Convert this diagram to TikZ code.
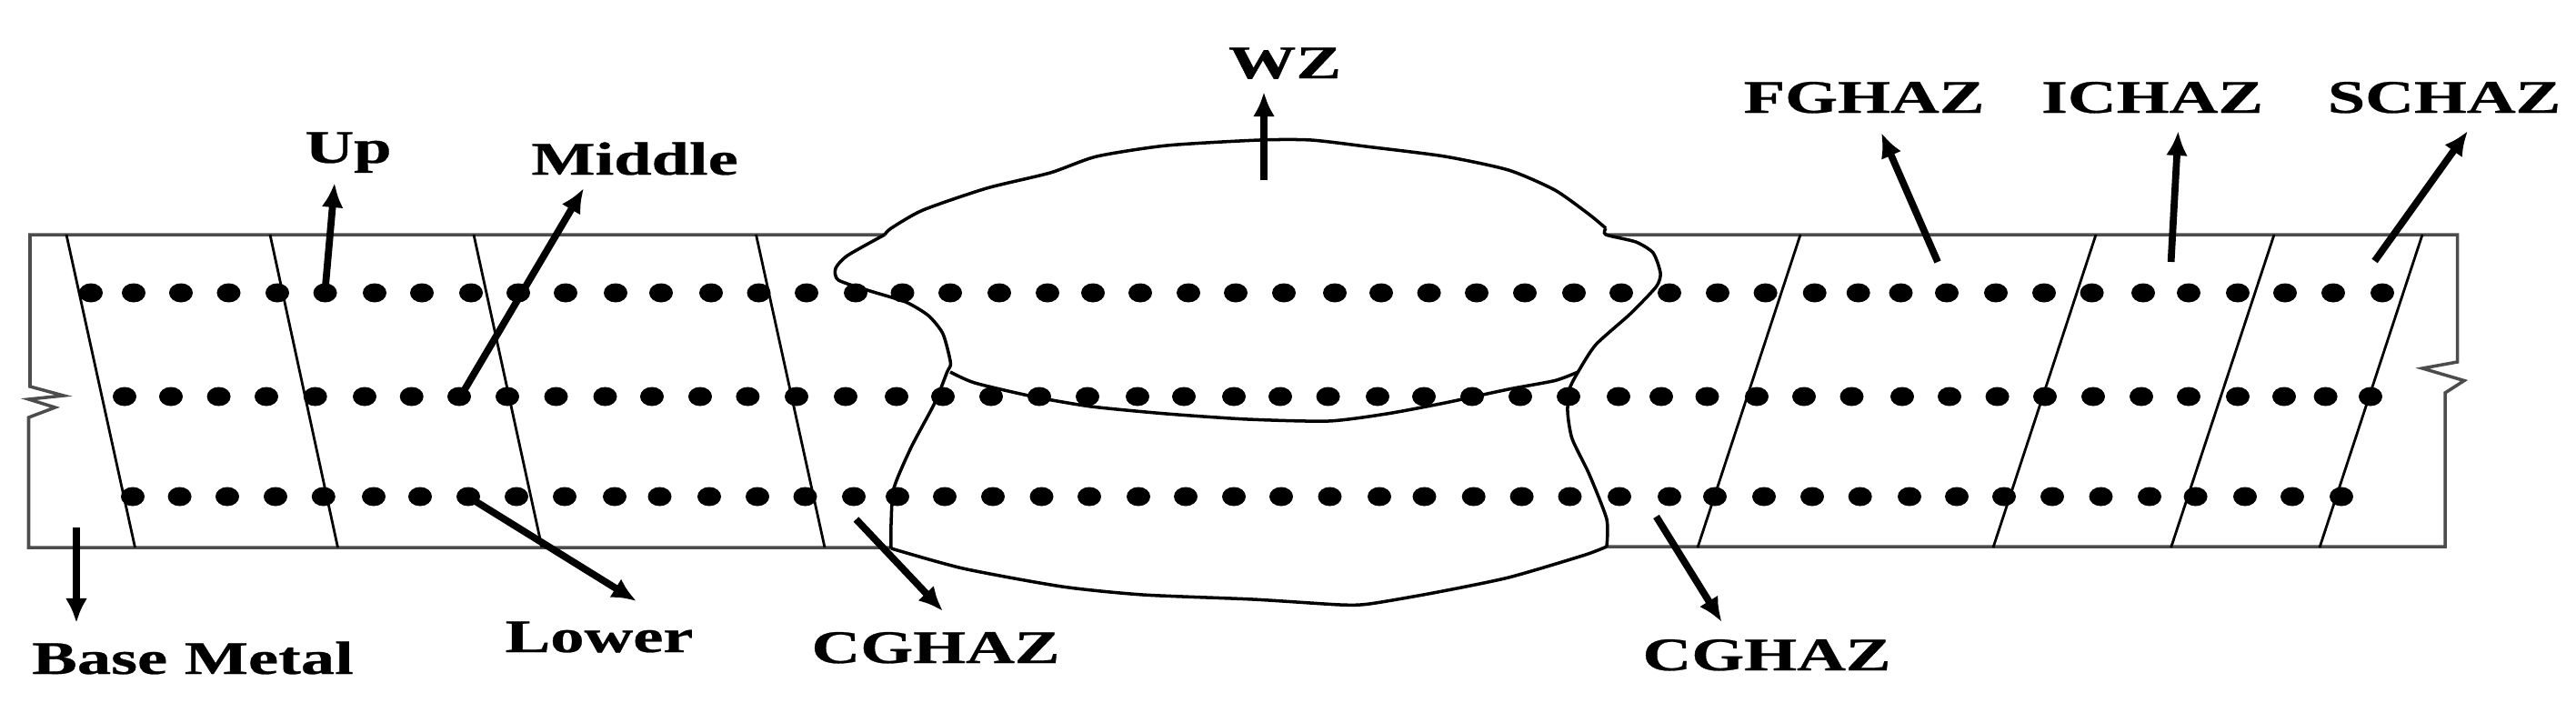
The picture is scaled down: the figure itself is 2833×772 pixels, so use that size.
\documentclass[tikz,border=0pt]{standalone}
\usepackage{fontspec}
\setmainfont{Liberation Serif}[BoldFeatures={FakeBold=0.5}]
\usetikzlibrary{arrows.meta}
\tikzset{
  plate/.style={line width=1pt,draw=black!70},
  seam/.style={line width=0.8pt},
  weld/.style={line width=1pt},
  pointer/.style={line width=2.2pt,-{Latex[length=0.27cm,width=0.24cm]}},
  lbl/.style={font=\fontsize{14.6}{15}\selectfont\bfseries,anchor=base,xscale=1.45,transform shape}
}
\begin{document}
\begin{tikzpicture}[x=0.01cm,y=-0.01cm]
\useasboundingbox (0,0) rectangle (2833,772);
% plate outline with the two break marks
\draw[plate] (973,258) -- (33,258) -- (33,425) -- (70,435) -- (31.5,439) -- (60.6,448) -- (31.5,459) -- (31.5,602) -- (980,602);
\draw[plate] (1766,258) -- (2702.5,258) -- (2702.5,398) -- (2664,405) -- (2710,418.5) -- (2689,432) -- (2689,601) -- (1767,601);
% zone boundaries
\foreach \xa/\xb in {73/148.5,297/371.5,521/596,831.5/907,1980/1867,2305/2192,2501/2387.6,2664/2551} {
\draw[seam] (\xa,258) -- (\xb,602);
}
% weld
\draw[weld] plot[smooth,tension=0.4] coordinates {(973,258) (980,251) (1015,231) (1085,207) (1155,190) (1206,172) (1283,160) (1385,154) (1442,154) (1506,161.5) (1589,172) (1659,187) (1710,209) (1748,236) (1766,251)};
\draw[weld] plot[smooth,tension=0.4] coordinates {(1766,251) (1766,258) (1799,266) (1818,278) (1826,300) (1821.6,315) (1793,345) (1755,379) (1735.5,409) (1726,428) (1724,453) (1729,482.5) (1748,522) (1767,571) (1767,601)};
\draw[weld] plot[smooth,tension=0.4] coordinates {(1767,601) (1742,610.5) (1659,635) (1576,652) (1506,664) (1474,665) (1378,659) (1257,654) (1168,645) (1059,625) (980,603)};
\draw[weld] plot[smooth,tension=0.4] coordinates {(980,603) (980,576) (983,537) (1002,492) (1028,443) (1041.6,409) (1045.4,399) (1037,367) (1021,347) (996,332) (957,320) (922,308) (919,295) (932,281) (973,258)};
\draw[weld] plot[smooth,tension=0.4] coordinates {(1045,409) (1072,421) (1136,436) (1200,447) (1283,455) (1372,461) (1461,463) (1525,455) (1589,443) (1659,428) (1710,418.5) (1735.5,409)};
% measuring points
\foreach \x in {100,147,199,251.5,305,357.6,412,464,518,570,622,677,727,782,834.5,887,941,992.5,1045,1099,1152,1202,1254,1307,1359,1412,1468,1519,1571.6,1624,1677,1731,1783,1836,1889,1941.6,1995.7,2043.7,2090.5,2141,2195,2248,2300.6,2357,2407,2461,2513,2566,2620} {
\fill (\x,322) ellipse [x radius=0.13cm,y radius=0.105cm];
}
\foreach \x in {137,188,240.6,293,346.7,401,452.7,505,558,611.5,665.5,717,770,822.4,876,930,986,1037,1090,1143,1196,1251,1302,1357,1408,1460.6,1515,1566,1619,1672,1725,1780,1827,1877.5,1932,1984,2036.5,2092,2144,2196.6,2249,2302,2355,2407,2461,2512,2557.6,2607} {
\fill (\x,436) ellipse [x radius=0.13cm,y radius=0.105cm];
}
\foreach \x in {146,197.6,250,303,355.8,411,462,515,568,621,676,725.5,780,833,885.5,939,987,1039,1092,1145.5,1198,1252,1304,1357,1409,1462.5,1517,1566.5,1620.7,1673.6,1726.5,1781,1836,1886,1940,1993,2045.7,2100,2152,2204,2257,2310.5,2364,2414.6,2469,2521,2575} {
\fill (\x,546) ellipse [x radius=0.13cm,y radius=0.105cm];
}
% labels
\node[lbl] (base) at (212,741) {Base Metal};
\node[lbl] (up) at (383,179) {Up};
\node[lbl] (middle) at (698,192) {Middle};
\node[lbl] (lower) at (659,717) {Lower};
\node[lbl] (cgl) at (1029,729) {CGHAZ};
\node[lbl] (wz) at (1413,86) {WZ};
\node[lbl] (cgr) at (1943,737) {CGHAZ};
\node[lbl] (fg) at (2050,124) {FGHAZ};
\node[lbl] (ic) at (2367,124) {ICHAZ};
\node[lbl] (sc) at (2688,124) {SCHAZ};
% pointers
\coordinate (baseA) at (84,580);
\coordinate (baseB) at (84,685);
\coordinate (upA) at (357.6,318.6);
\coordinate (upB) at (368,201);
\coordinate (midA) at (510,430);
\coordinate (midB) at (642,207);
\coordinate (lowA) at (521,550);
\coordinate (lowB) at (700,661);
\coordinate (wzA) at (1390,198);
\coordinate (wzB) at (1390,101);
\coordinate (cglA) at (941.5,571);
\coordinate (cglB) at (1037,672);
\coordinate (cgrA) at (1821.5,568);
\coordinate (cgrB) at (1893.6,684);
\coordinate (fgA) at (2131,288);
\coordinate (fgB) at (2069,146);
\coordinate (icA) at (2387.6,288);
\coordinate (icB) at (2395.5,144);
\coordinate (scA) at (2611.6,287);
\coordinate (scB) at (2714,144);
\foreach \p in {base,up,mid,low,wz,cgl,cgr,fg,ic,sc} {
\draw[pointer] (\p A) -- (\p B);
}
\end{tikzpicture}
\end{document}
